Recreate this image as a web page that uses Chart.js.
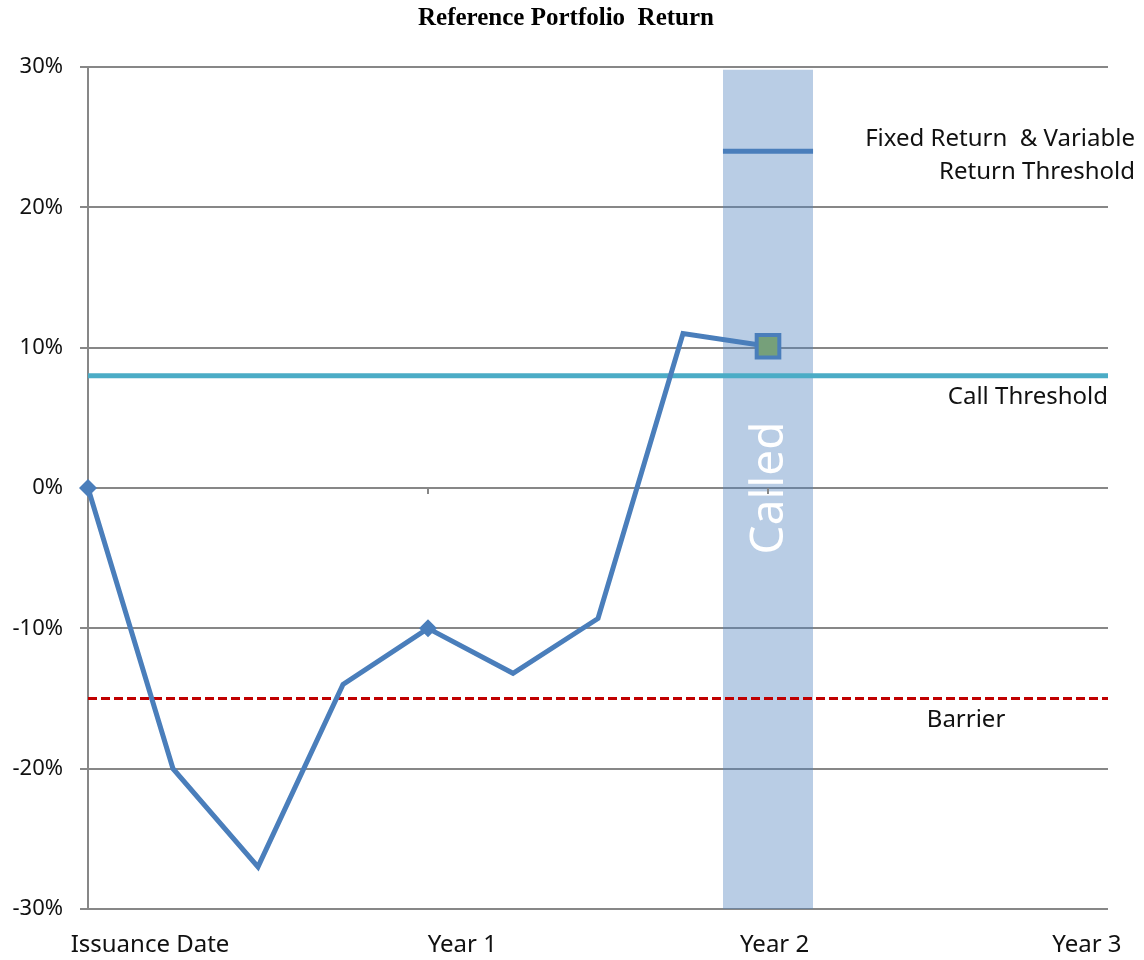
<!DOCTYPE html>
<html>
<head>
<meta charset="utf-8">
<script src="https://cdn.jsdelivr.net/npm/chart.js@4"></script>
<style>
html, body { margin: 0; padding: 0; background: #fff; }
</style>
</head>
<body>
<canvas id="chart" width="1144" height="960"></canvas>
<script>
// データ（四半期ごと、0 = 発行日）
const quarters = [0, 1, 2, 3, 4, 5, 6, 7, 8];
const returns = [0, -20, -27, -14, -10, -13.2, -9.3, 11, 10.1];
const xLabels = ['Issuance Date', 'Year 1', 'Year 2', 'Year 3'];
const yTicks = [-30, -20, -10, 0, 10, 20, 30];

const callThreshold = 8;
const barrier = -15;
const fixedReturn = 24;
const calledQuarter = 8;
const bandHalfWidth = 0.53;
const bandTop = 29.8;
const lastQuarter = 12;

const gridColor = '#878787';
const fontFamily = '"Noto Sans", sans-serif';

// 注記テキストと0%ラインの目盛り
const annotations = {
    id: 'annotations',
    afterDatasetsDraw(chart) {
        const { ctx, scales: { x, y } } = chart;
        const zeroY = y.getPixelForValue(0);

        ctx.save();

        // Called
        ctx.save();
        ctx.translate(x.getPixelForValue(calledQuarter) + 2, zeroY);
        ctx.rotate(-Math.PI / 2);
        ctx.fillStyle = '#ffffff';
        ctx.font = '46px ' + fontFamily;
        ctx.textAlign = 'center';
        ctx.textBaseline = 'middle';
        ctx.fillText('Called', 0, 0);
        ctx.restore();

        ctx.strokeStyle = gridColor;
        ctx.lineWidth = 2;
        [4, 8].forEach(q => {
            const px = x.getPixelForValue(q);
            ctx.beginPath();
            ctx.moveTo(px, zeroY);
            ctx.lineTo(px, zeroY + 6);
            ctx.stroke();
        });

        ctx.fillStyle = '#111';
        ctx.font = '24px ' + fontFamily;
        ctx.textBaseline = 'middle';
        ctx.textAlign = 'right';
        ctx.fillText('Fixed Return  & Variable', chart.width - 9, y.getPixelForValue(fixedReturn) - 12);
        ctx.fillText('Return Threshold', chart.width - 9, y.getPixelForValue(fixedReturn) + 21);
        ctx.fillText('Call Threshold', x.right, y.getPixelForValue(callThreshold) + 21);
        ctx.textAlign = 'center';
        ctx.fillText('Barrier', x.getPixelForValue(10.33), y.getPixelForValue(barrier) + 22);

        // タイトル
        ctx.font = 'bold 25px "Liberation Serif", serif';
        ctx.fillStyle = '#000';
        ctx.fillText('Reference Portfolio  Return', 566, 19);
        ctx.restore();
    }
};

const ctx = document.getElementById('chart').getContext('2d');
new Chart(ctx, {
    type: 'line',
    data: {
        datasets: [{
            label: 'Return',
            data: quarters.map((q, i) => ({ x: q, y: returns[i] })),
            borderColor: '#4a7ebb',
            borderWidth: 5,
            tension: 0,
            clip: false,
            pointStyle: quarters.map(q => q === calledQuarter ? 'rect' : 'rectRot'),
            pointRadius: quarters.map(q => q === calledQuarter ? 16 : (q === 0 || q === 4 ? 9 : 0)),
            pointBackgroundColor: quarters.map(q => q === calledQuarter ? '#76a07a' : '#4a7ebb'),
            pointBorderColor: '#4a7ebb',
            pointBorderWidth: quarters.map(q => q === calledQuarter ? 4 : 0),
            order: 1
        }, {
            label: 'Fixed Return',
            data: [{ x: calledQuarter - bandHalfWidth, y: fixedReturn }, { x: calledQuarter + bandHalfWidth, y: fixedReturn }],
            borderColor: '#4a7ebb',
            borderWidth: 5,
            pointRadius: 0,
            order: 2
        }, {
            label: 'Barrier',
            data: [{ x: 0, y: barrier }, { x: lastQuarter, y: barrier }],
            borderColor: '#c00000',
            borderWidth: 3,
            borderDash: [9, 4],
            pointRadius: 0,
            order: 3
        }, {
            label: 'Call Threshold',
            data: [{ x: 0, y: callThreshold }, { x: lastQuarter, y: callThreshold }],
            borderColor: '#4bacc6',
            borderWidth: 5,
            pointRadius: 0,
            order: 4
        }, {
            label: 'Called',
            data: [{ x: calledQuarter - bandHalfWidth, y: bandTop }, { x: calledQuarter + bandHalfWidth, y: bandTop }],
            borderWidth: 0,
            borderColor: 'rgba(0,0,0,0)',
            backgroundColor: 'rgba(79, 129, 189, 0.4)',
            fill: { value: -30 },
            pointRadius: 0,
            order: 5
        }]
    },
    options: {
        responsive: false,
        animation: false,
        layout: { padding: { top: 67, right: 36, left: 0, bottom: 0 } },
        plugins: {
            legend: { display: false },
            tooltip: { enabled: false }
        },
        scales: {
            x: {
                type: 'linear',
                min: 0,
                max: lastQuarter,
                display: false
            },
            xl: {
                type: 'linear',
                position: 'bottom',
                axis: 'x',
                min: -0.1985,
                max: 3.0675,
                grid: { display: false },
                border: { display: false },
                afterBuildTicks: scale => { scale.ticks = xLabels.map((_, i) => ({ value: i })); },
                afterFit: scale => { scale.height = 51; },
                ticks: {
                    padding: 14,
                    maxRotation: 0,
                    autoSkip: false,
                    color: '#111',
                    font: { family: fontFamily, size: 24 },
                    callback: value => xLabels[value]
                }
            },
            y: {
                min: -30,
                max: 30,
                afterBuildTicks: scale => { scale.ticks = yTicks.map(v => ({ value: v })); },
                afterFit: scale => { scale.width = 88; },
                grid: { color: gridColor, lineWidth: 2, tickLength: 8 },
                border: { color: gridColor, width: 2 },
                ticks: {
                    padding: 17,
                    color: '#111',
                    font: { family: fontFamily, size: 22 },
                    callback: value => value + '%'
                }
            }
        }
    },
    plugins: [annotations]
});
</script>
</body>
</html>
